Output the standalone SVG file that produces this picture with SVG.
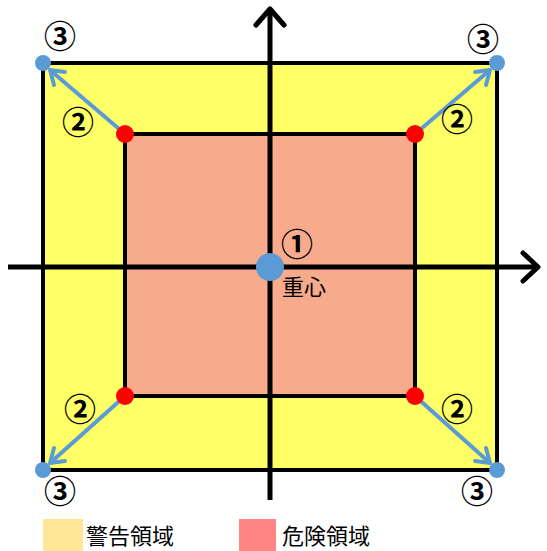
<svg xmlns="http://www.w3.org/2000/svg" width="547" height="551" viewBox="0 0 547 551">
<style>
.num{font-family:"Noto Sans CJK JP","DejaVu Sans",sans-serif;font-size:32px;font-weight:bold;fill:#000;text-anchor:middle}
.lbl{font-family:"Noto Sans CJK JP",sans-serif;font-size:22px;fill:#000}
.leg{font-family:"Noto Sans CJK JP",sans-serif;font-size:22px;fill:#000}
.axis{stroke:#000;stroke-width:5;fill:none}
.arr{stroke:#5B9BD5;stroke-width:4;fill:none}
.blue{fill:#5B9BD5}
.red{fill:#FF0000}
</style>
<rect width="547" height="551" fill="#fff"/>
<g id="warning-zone"><rect x="43" y="63" width="454" height="407" fill="#FFFF66" stroke="#000" stroke-width="4"/></g>
<g id="danger-zone"><rect x="125" y="134" width="290" height="262" fill="#F8AA8C" stroke="#000" stroke-width="4"/></g>
<g id="axes">
<line class="axis" x1="8" y1="267" x2="538" y2="267"/>
<polyline class="axis" points="523,253 538,267 523,281" stroke-linecap="round" stroke-linejoin="round"/>
<line class="axis" x1="270" y1="500" x2="270" y2="10"/>
<polyline class="axis" points="256,25 270,9 284,25" stroke-linecap="round" stroke-linejoin="round"/>
</g>
<g id="connectors">
<line class="arr" x1="125" y1="134" x2="50" y2="70"/>
<polyline class="arr" points="54,85 50,70 65,72" stroke-linecap="round" stroke-linejoin="round"/>
<line class="arr" x1="415" y1="134" x2="490" y2="70"/>
<polyline class="arr" points="475,72 490,70 486,85" stroke-linecap="round" stroke-linejoin="round"/>
<line class="arr" x1="125" y1="396" x2="50" y2="463"/>
<polyline class="arr" points="54,448 50,463 65,461" stroke-linecap="round" stroke-linejoin="round"/>
<line class="arr" x1="415" y1="396" x2="490" y2="463"/>
<polyline class="arr" points="475,461 490,463 486,448" stroke-linecap="round" stroke-linejoin="round"/>
</g>
<g id="center"><circle class="blue" cx="270" cy="267" r="14"/><text class="num" x="297" y="256">①</text><text class="lbl" x="282" y="295">重心</text></g>
<g id="red-tl"><circle class="red" cx="125" cy="134" r="9"/></g>
<g id="red-tr"><circle class="red" cx="415" cy="134" r="9"/></g>
<g id="red-bl"><circle class="red" cx="125" cy="396" r="9"/></g>
<g id="red-br"><circle class="red" cx="415" cy="396" r="9"/></g>
<g id="blue-tl"><circle class="blue" cx="43" cy="63" r="8"/><text class="num" x="60" y="48">③</text></g>
<g id="blue-tr"><circle class="blue" cx="497" cy="63" r="8"/><text class="num" x="483" y="51">③</text></g>
<g id="blue-bl"><circle class="blue" cx="43" cy="470" r="8"/><text class="num" x="60" y="503">③</text></g>
<g id="blue-br"><circle class="blue" cx="497" cy="470" r="8"/><text class="num" x="477" y="503">③</text></g>
<g id="labels2">
<text class="num" x="78" y="134">②</text>
<text class="num" x="457" y="131">②</text>
<text class="num" x="80" y="421">②</text>
<text class="num" x="457" y="421">②</text>
</g>
<g id="legend">
<rect x="43" y="519" width="40" height="32" fill="#FFE699"/>
<text class="leg" x="86" y="544">警告領域</text>
<rect x="239" y="519" width="37" height="32" fill="#FF8585"/>
<text class="leg" x="282" y="544">危険領域</text>
</g>
</svg>
